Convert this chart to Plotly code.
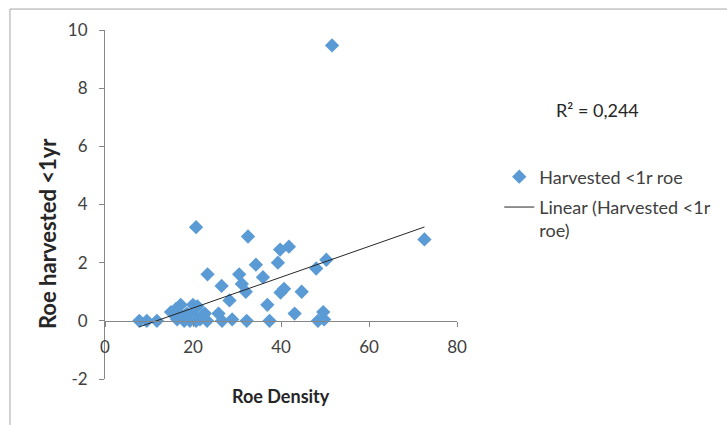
import numpy as np
import plotly.graph_objects as go

# Roe density vs. roe harvested under one year
roe_density = [
    7.8, 9.5, 11.8, 15.0, 16.1, 17.2, 16.4, 18.0, 18.6, 19.3,
    20.0, 21.0, 20.7, 21.6, 22.3, 22.7, 23.2, 25.8, 26.6, 28.9,
    28.3, 26.5, 23.3, 20.7, 30.5, 31.1, 32.0, 32.2, 32.5, 34.3,
    35.9, 36.9, 37.4, 39.3, 39.8, 41.8, 39.9, 40.7, 43.1, 44.7,
    48.0, 50.3, 48.4, 49.6, 49.8, 51.6, 72.6, 17.5, 19.8,
]
roe_harvested = [
    0.0, 0.0, 0.0, 0.3, 0.4, 0.55, 0.05, 0.0, 0.25, 0.0,
    0.55, 0.5, 0.0, 0.05, 0.2, 0.25, 0.0, 0.25, 0.0, 0.05,
    0.7, 1.2, 1.6, 3.22, 1.6, 1.27, 1.0, 0.0, 2.9, 1.93,
    1.5, 0.55, 0.0, 2.0, 2.45, 2.55, 0.97, 1.1, 0.25, 1.0,
    1.8, 2.1, 0.0, 0.3, 0.05, 9.47, 2.8, 0.15, 0.25,
]
r_squared_text = "R² = 0,244"
x_ticks = [0, 20, 40, 60, 80]
y_ticks = [-2, 0, 2, 4, 6, 8, 10]
y_tick_labels = ["-2", "0", "2", "4", "6", "8", "10"]

FONT = "Lato"
AXIS_GREY = "#868686"

# least-squares trend line over the observed density range
slope, intercept = np.polyfit(roe_density, roe_harvested, 1)
trend_x = [min(roe_density), max(roe_density)]
trend_y = [intercept + slope * v for v in trend_x]

fig = go.Figure()
fig.add_trace(go.Scatter(
    x=roe_density, y=roe_harvested, mode="markers",
    name="Harvested <1r roe", legendgroup="a",
    marker=dict(symbol="diamond", size=11, color="#5B9BD5", line=dict(width=0)),
))
fig.add_trace(go.Scatter(
    x=trend_x, y=trend_y, mode="lines",
    name="Linear (Harvested <1r<br>roe)", legendgroup="b",
    line=dict(color="#262626", width=1),
))

fig.update_layout(
    width=727, height=425,
    margin=dict(l=105, r=270, t=30, b=46, autoexpand=False),
    paper_bgcolor="white", plot_bgcolor="white",
    font=dict(family=FONT, size=17, color="#404040"),
    showlegend=True,
    legend=dict(
        x=1.12, y=0.632, xanchor="left", yanchor="top",
        font=dict(family=FONT, size=18, color="#404040"),
        valign="top", tracegroupgap=4, bgcolor="rgba(0,0,0,0)",
    ),
    xaxis=dict(
        range=[0, 80], tickvals=x_ticks, anchor="free", position=1 / 6,
        showline=True, linecolor=AXIS_GREY, linewidth=1,
        ticks="outside", ticklen=5, tickcolor=AXIS_GREY,
        showgrid=False, zeroline=False, ticklabelstandoff=6,
        tickfont=dict(family=FONT, size=17, color="#404040"),
    ),
    yaxis=dict(
        range=[-2, 10], tickvals=y_ticks, ticktext=y_tick_labels,
        showline=True, linecolor=AXIS_GREY, linewidth=1,
        ticks="outside", ticklen=5, tickcolor=AXIS_GREY,
        showgrid=False, zeroline=False, ticklabelstandoff=8,
        tickfont=dict(family=FONT, size=17, color="#404040"),
    ),
    annotations=[
        dict(text="<b>Roe Density</b>", xref="paper", yref="paper",
             x=0.5, y=-0.049, xanchor="center", yanchor="middle",
             showarrow=False, font=dict(family=FONT, size=18, color="#262626")),
        dict(text="<b>Roe harvested <1yr</b>", xref="paper", yref="paper",
             x=-0.165, y=0.418, xanchor="center", yanchor="middle", textangle=-90,
             showarrow=False, font=dict(family=FONT, size=22, color="#262626")),
        dict(text=r_squared_text, xref="paper", yref="paper",
             x=1.398, y=0.771, xanchor="center", yanchor="middle",
             showarrow=False, font=dict(family=FONT, size=18, color="#262626")),
    ],
    shapes=[
        dict(type="line", xref="paper", yref="paper",
             x0=-0.27, x1=-0.27, y0=-0.15, y1=1.06,
             line=dict(color="#A6A6A6", width=1)),
        dict(type="line", xref="paper", yref="paper",
             x0=-0.27, x1=2.0, y0=1.06, y1=1.06,
             line=dict(color="#A6A6A6", width=1)),
    ],
)

fig.write_html("out.html")
